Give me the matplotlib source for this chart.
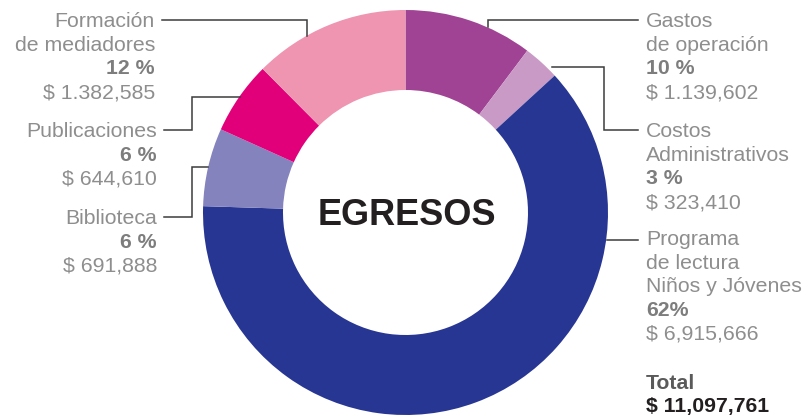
import matplotlib.pyplot as plt

# data (clockwise from top)
categories = [
    ["Gastos", "de operación"],
    ["Costos", "Administrativos"],
    ["Programa", "de lectura", "Niños y Jóvenes"],
    ["Biblioteca"],
    ["Publicaciones"],
    ["Formación", "de mediadores"],
]
amounts = [1139602, 323410, 6915666, 691888, 644610, 1382585]
pct_labels = ["10 %", "3 %", "62%", "6 %", "6 %", "12 %"]
amount_labels = ["$ 1.139,602", "$ 323,410", "$ 6,915,666",
                 "$ 691,888", "$ 644,610", "$ 1.382,585"]
colors = ["#A04394", "#C99AC6", "#273692", "#8583BD", "#E2007A", "#EF94B1"]
total_label = "$ 11,097,761"

W, H = 803, 416
plt.rcParams["font.family"] = ["Liberation Sans", "DejaVu Sans"]

fig = plt.figure(figsize=(W / 100, H / 100), dpi=100)
ax = fig.add_axes([0, 0, 1, 1])


def Y(y):
    # image pixel row -> axes y
    return H - y


cx, cy, r_out, r_in = 405.5, 212.5, 202.5, 122.5
ax.pie(amounts, colors=colors, startangle=90, counterclock=False,
       center=(cx, Y(cy)), radius=r_out,
       wedgeprops=dict(width=r_out - r_in, edgecolor="none", linewidth=0))
ax.set_xlim(0, W)
ax.set_ylim(0, H)
ax.set_aspect("equal")
ax.axis("off")

ax.text(407, Y(225), "EGRESOS", fontsize=26, fontweight="bold",
        color="#231F20", ha="center", va="baseline")

txt_gray = "#8E8E8E"
pct_gray = "#7D7D7D"
line_col = "#3C3C3C"
fs = 15.3
step = 23.7

# label block positions: (x, first baseline, ha)
blocks = [
    (646, 27, "left"),
    (646, 137, "left"),
    (646, 245, "left"),
    (157, 224, "right"),
    (157, 137, "right"),
    (155, 27, "right"),
]

for i, (x, y0, ha) in enumerate(blocks):
    lines = categories[i]
    y = y0
    for ln in lines:
        ax.text(x, Y(y), ln, fontsize=fs, color=txt_gray, ha=ha, va="baseline")
        y += step
    ax.text(x, Y(y), pct_labels[i], fontsize=fs, fontweight="bold",
            color=pct_gray, ha=ha, va="baseline")
    y += step
    ax.text(x, Y(y), amount_labels[i], fontsize=fs, color=txt_gray,
            ha=ha, va="baseline")

ax.text(646, Y(389), "Total", fontsize=fs, fontweight="bold",
        color="#5A5A5A", ha="left", va="baseline")
ax.text(646, Y(412), total_label, fontsize=fs, fontweight="bold",
        color="#231F20", ha="left", va="baseline")

# leader lines
leaders = [
    ([488, 488, 638], [27, 20, 20]),
    ([552, 604, 604, 638], [67, 67, 130, 130]),
    ([607, 638], [240, 240]),
    ([208, 192, 192, 164], [167, 167, 217, 217]),
    ([240, 192, 192, 164], [97, 97, 130, 130]),
    ([307, 307, 162], [36, 20, 20]),
]
for xs, ys in leaders:
    ax.plot(xs, [Y(v) for v in ys], color=line_col, lw=1.1,
            solid_joinstyle="miter")

fig.savefig("out.png", dpi=100)
